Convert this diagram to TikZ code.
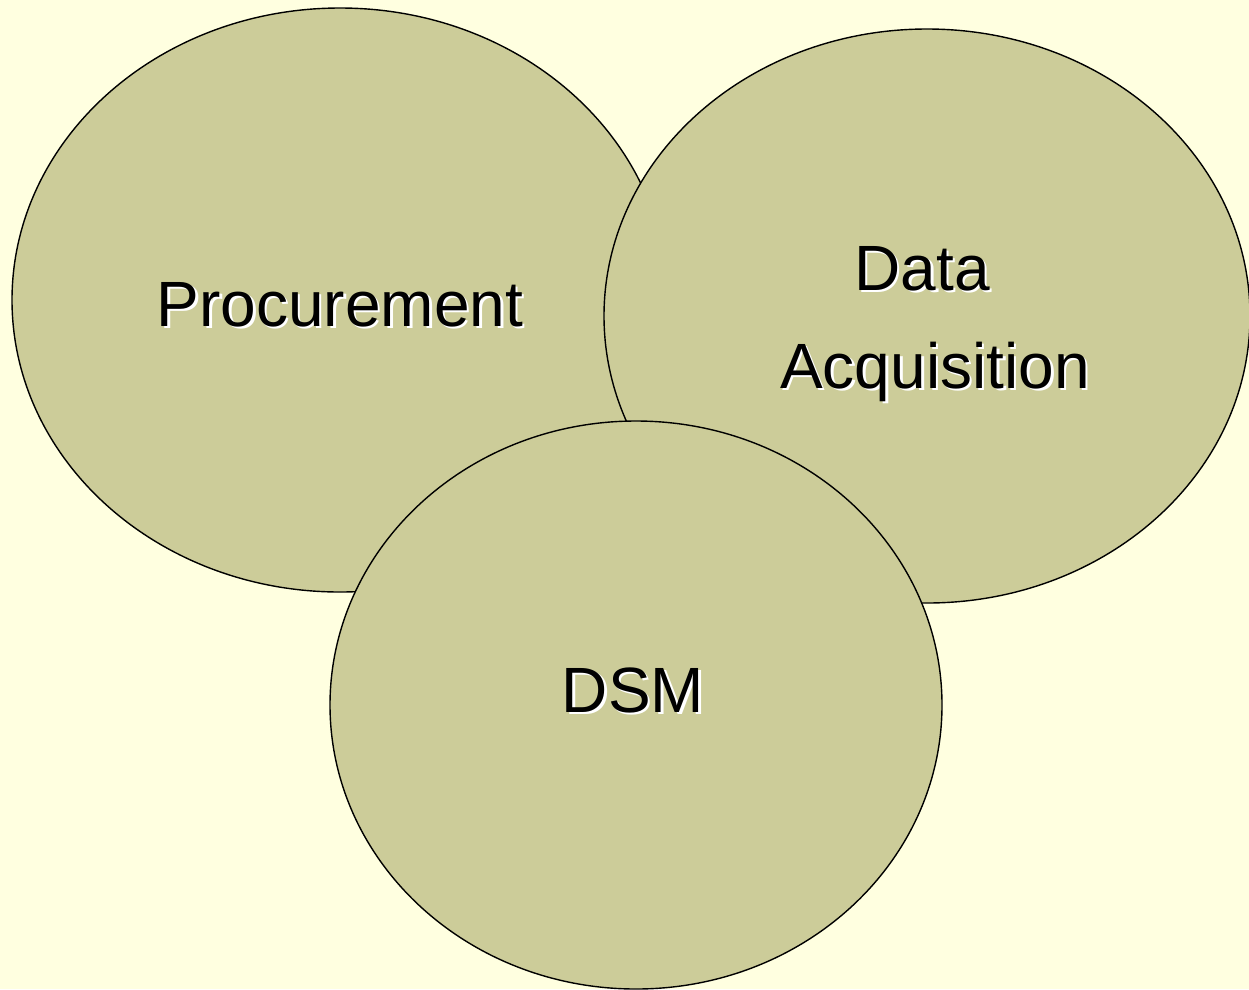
\documentclass[tikz,border=0pt]{standalone}
\usepackage{fontspec}
\setmainfont{Liberation Sans}
\definecolor{bgc}{HTML}{FFFFE0}
\definecolor{blob}{HTML}{CCCC99}
\newcommand{\shtxt}[1]{\rlap{\kern2.5pt\raisebox{-2.5pt}{\textcolor{white}{#1}}}#1}
\begin{document}
\begin{tikzpicture}[x=1pt,y=-1pt,
  blobstyle/.style={draw=black,line width=1.4pt,fill=blob},
  lbl/.style={inner sep=0pt,anchor=base,text=black,font=\fontsize{64}{77}\selectfont}]
\fill[bgc] (0,0) rectangle (1249,989);
\useasboundingbox (0,0) rectangle (1249,989);
\filldraw[blobstyle] (340,300) ellipse [x radius=328, y radius=292];
\filldraw[blobstyle] (927,316) ellipse [x radius=323, y radius=287];
\filldraw[blobstyle] (636,705) ellipse [x radius=306, y radius=284];
\node[lbl] (proc) at (340,326) {\shtxt{Procurement}};
\node[lbl] (data) at (922,290) {\shtxt{Data}};
\node[lbl] (acq) at (935,388) {\shtxt{Acquisition}};
\node[lbl] (dsm) at (633,712) {\shtxt{DSM}};
\end{tikzpicture}
\end{document}
